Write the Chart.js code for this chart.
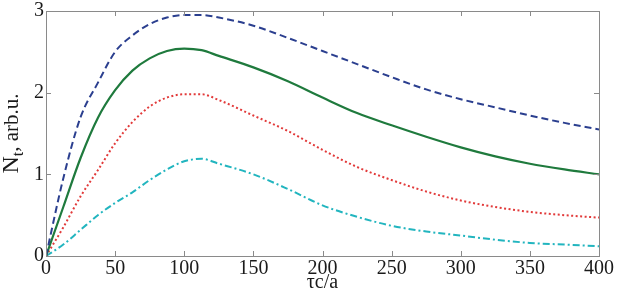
<!DOCTYPE html>
<html lang="en">
<head>
<meta charset="utf-8" />
<title>Nt vs tc/a</title>
<style>
  html, body { margin: 0; padding: 0; background: #ffffff; }
  #wrap { width: 617px; height: 297px; position: relative; }
</style>
</head>
<body>
<div id="wrap"><canvas id="chart"></canvas></div>
<script src="https://cdn.jsdelivr.net/npm/chart.js"></script>
<script>
// values
const tcValues = [0, 12.5, 25, 37.5, 50, 62.5, 75, 87.5, 100, 112.5, 125, 150, 175, 200, 225, 250, 275, 300, 325, 350, 375, 400];
const blueDashed = [0, 0.95, 1.7, 2.12, 2.5, 2.7, 2.84, 2.92, 2.95, 2.95, 2.92, 2.82, 2.67, 2.51, 2.35, 2.19, 2.04, 1.92, 1.82, 1.72, 1.63, 1.55];
const greenSolid = [0, 0.6, 1.2, 1.69, 2.03, 2.27, 2.42, 2.51, 2.54, 2.52, 2.45, 2.31, 2.14, 1.94, 1.75, 1.6, 1.46, 1.33, 1.22, 1.13, 1.06, 1.0];
const redDotted = [0, 0.35, 0.73, 1.05, 1.38, 1.64, 1.83, 1.94, 1.98, 1.98, 1.91, 1.72, 1.53, 1.3, 1.09, 0.93, 0.79, 0.68, 0.6, 0.54, 0.5, 0.47];
const cyanDashDot = [0, 0.14, 0.32, 0.5, 0.65, 0.78, 0.93, 1.06, 1.16, 1.19, 1.13, 1.0, 0.82, 0.62, 0.48, 0.37, 0.3, 0.25, 0.2, 0.16, 0.14, 0.12];
const xTicks = [0, 50, 100, 150, 200, 250, 300, 350, 400];
const yTicks = [0, 1, 2, 3];

const serif = "'Liberation Serif', 'DejaVu Serif', serif";

function pts(ys) {
  return tcValues.map((x, i) => ({ x: x, y: ys[i] }));
}

function line(ys, color, dash, width) {
  return {
    data: pts(ys),
    borderColor: color,
    borderWidth: width,
    borderDash: dash,
    pointRadius: 0,
    fill: false,
    cubicInterpolationMode: "monotone",
  };
}

// frame, inward ticks and the y title with a subscript
const framePlugin = {
  id: "frame",
  afterDraw(chart) {
    const ctx = chart.ctx;
    const a = chart.chartArea;
    const xs = chart.scales.x, ys = chart.scales.y;
    ctx.save();
    ctx.strokeStyle = "#8a8a8a";
    ctx.lineWidth = 1;
    ctx.strokeRect(a.left + 0.5, a.top + 0.5, a.right - a.left, a.bottom - a.top);
    ctx.beginPath();
    xTicks.forEach((v) => {
      const px = Math.round(xs.getPixelForValue(v)) + 0.5;
      ctx.moveTo(px, a.bottom); ctx.lineTo(px, a.bottom - 5);
      ctx.moveTo(px, a.top); ctx.lineTo(px, a.top + 5);
    });
    yTicks.forEach((v) => {
      const py = Math.round(ys.getPixelForValue(v)) + 0.5;
      ctx.moveTo(a.left, py); ctx.lineTo(a.left + 5, py);
      ctx.moveTo(a.right, py); ctx.lineTo(a.right - 5, py);
    });
    ctx.stroke();

    ctx.translate(18, (a.top + a.bottom) / 2);
    ctx.rotate(-Math.PI / 2);
    ctx.fillStyle = "#1a1a1a";
    ctx.textBaseline = "alphabetic";
    const parts = [
      { s: "N", f: "24px ", dy: 0 },
      { s: "t", f: "16px ", dy: 5 },
      { s: ", arb.u.", f: "21px ", dy: 0 },
    ];
    let total = 0;
    parts.forEach((p) => { ctx.font = p.f + serif; p.w = ctx.measureText(p.s).width; total += p.w; });
    let x0 = -total / 2;
    parts.forEach((p) => {
      ctx.font = p.f + serif;
      ctx.fillText(p.s, x0, p.dy);
      x0 += p.w;
    });
    ctx.restore();
  },
};

new Chart(document.getElementById("chart"), {
  type: "line",
  data: {
    datasets: [
      line(blueDashed, "#2b3f8f", [7, 4], 2),
      line(greenSolid, "#1f7a3d", [], 2.2),
      line(redDotted, "#e23a3a", [2, 2.5], 2),
      line(cyanDashDot, "#22b5bf", [7, 3, 2, 3], 2),
    ],
  },
  options: {
    responsive: true,
    maintainAspectRatio: false,
    animation: false,
    layout: { padding: { top: 0, right: 16, left: 0, bottom: 0 } },
    plugins: { legend: { display: false }, tooltip: { enabled: false } },
    scales: {
      x: {
        type: "linear",
        min: 0,
        max: 400,
        afterBuildTicks(scale) { scale.ticks = xTicks.map((v) => ({ value: v })); },
        afterFit(scale) { scale.height = 41; },
        grid: { display: false, drawTicks: false },
        border: { display: false },
        ticks: {
          padding: 3,
          color: "#1a1a1a",
          font: { family: serif, size: 20, lineHeight: 1 },
          maxRotation: 0,
        },
        title: {
          display: true,
          text: "τc/a",
          color: "#1a1a1a",
          font: { family: serif, size: 20, lineHeight: 1 },
          padding: { top: 0, bottom: 4 },
        },
      },
      y: {
        min: 0,
        max: 3,
        afterBuildTicks(scale) { scale.ticks = yTicks.map((v) => ({ value: v })); },
        afterFit(scale) { scale.width = 46; },
        grid: { display: false, drawTicks: false },
        border: { display: false },
        ticks: {
          padding: 2,
          color: "#1a1a1a",
          font: { family: serif, size: 20, lineHeight: 0.9 },
        },
      },
    },
  },
  plugins: [framePlugin],
});
</script>
</body>
</html>
